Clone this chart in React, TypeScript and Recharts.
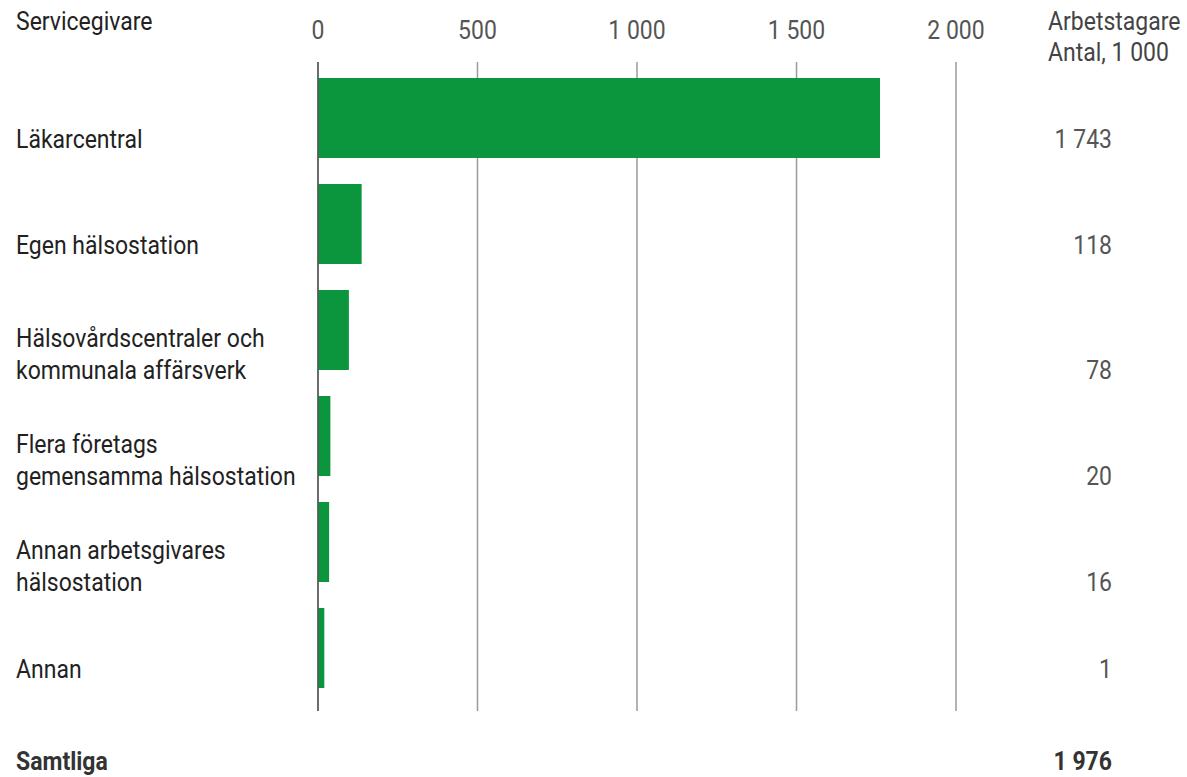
import React from "react";
import { Bar, BarChart, CartesianGrid, LabelList, ReferenceLine, XAxis, YAxis } from "recharts";

const categories = [
  "Läkarcentral",
  "Egen hälsostation",
  "Hälsovårdscentraler och\nkommunala affärsverk",
  "Flera företags\ngemensamma hälsostation",
  "Annan arbetsgivares\nhälsostation",
  "Annan",
];
const antal = [1743, 118, 78, 20, 16, 1];
const xTicks = [0, 500, 1000, 1500, 2000];
const totalLabel = "Samtliga";
const total = 1976;

const FONT = "Roboto, sans-serif";
const GREEN = "#0b963d";
const SX = 0.92; // narrow the font a bit, the original is a condensed face

const fmt = (n: number) => String(n).replace(/\B(?=(\d{3})+(?!\d))/g, " ");

const rows = categories.map((name, i) => ({ name, antal: antal[i] }));

function T({ x, y, anchor = "start", fill = "#222", bold = false, children }: any) {
  return (
    <text transform={`translate(${x},${y}) scale(${SX},1)`} dominantBaseline="central" textAnchor={anchor}
      fontFamily={FONT} fontSize={25} fontWeight={bold ? 700 : 400} fill={fill}>
      {children}
    </text>
  );
}

// bars in the original run a few px past their value
function BarShape(props: any) {
  const { x, y, width, height } = props;
  return <rect x={x} y={y} width={width + 6} height={height} fill={GREEN} />;
}

function RowLabel(props: any) {
  const { y, height, index } = props;
  const cy = y + height / 2;
  const lines = categories[index].split("\n");
  const offsets = lines.length > 1 ? [9, 41] : [22];
  return (
    <g>
      {lines.map((l, k) => (
        <T key={k} x={16} y={cy + offsets[k]}>{l}</T>
      ))}
      <T x={1112} y={cy + offsets[offsets.length - 1]} anchor="end" fill="#555">{fmt(antal[index])}</T>
    </g>
  );
}

function ValueTick(props: any) {
  const { x, payload } = props;
  return <T x={x} y={31} anchor="middle" fill="#555">{fmt(payload.value)}</T>;
}

export default function App() {
  return (
    <div style={{ position: "absolute", left: 0, top: 0, width: 1187, height: 777, background: "#fff" }}>
      <BarChart layout="vertical" width={1187} height={777} data={rows}
        margin={{ top: 32, right: 231, bottom: 66, left: 318 }}>
        <CartesianGrid horizontal={false} stroke="#9a9a9a" strokeWidth={1.5} />
        <XAxis type="number" orientation="top" domain={[0, 2000]} ticks={xTicks} height={30}
          axisLine={false} tickLine={false} tick={<ValueTick />} interval={0} />
        <YAxis type="category" dataKey="name" width={0} axisLine={false} tickLine={false}
          padding={{ top: 3, bottom: 10 }} tick={false} />
        <Bar dataKey="antal" fill={GREEN} barSize={80} shape={<BarShape />} isAnimationActive={false}>
          <LabelList dataKey="name" content={<RowLabel />} />
        </Bar>
        <ReferenceLine x={0} stroke="#555" strokeWidth={1.5} />
      </BarChart>
      <svg width={1187} height={777} style={{ position: "absolute", left: 0, top: 0, pointerEvents: "none" }}>
        <T x={16} y={22}>Servicegivare</T>
        <T x={1048} y={22} fill="#444">Arbetstagare</T>
        <T x={1048} y={53} fill="#444">Antal, 1 000</T>
        <T x={16} y={762} fill="#333" bold>{totalLabel}</T>
        <T x={1112} y={762} anchor="end" fill="#333" bold>{fmt(total)}</T>
      </svg>
    </div>
  );
}
